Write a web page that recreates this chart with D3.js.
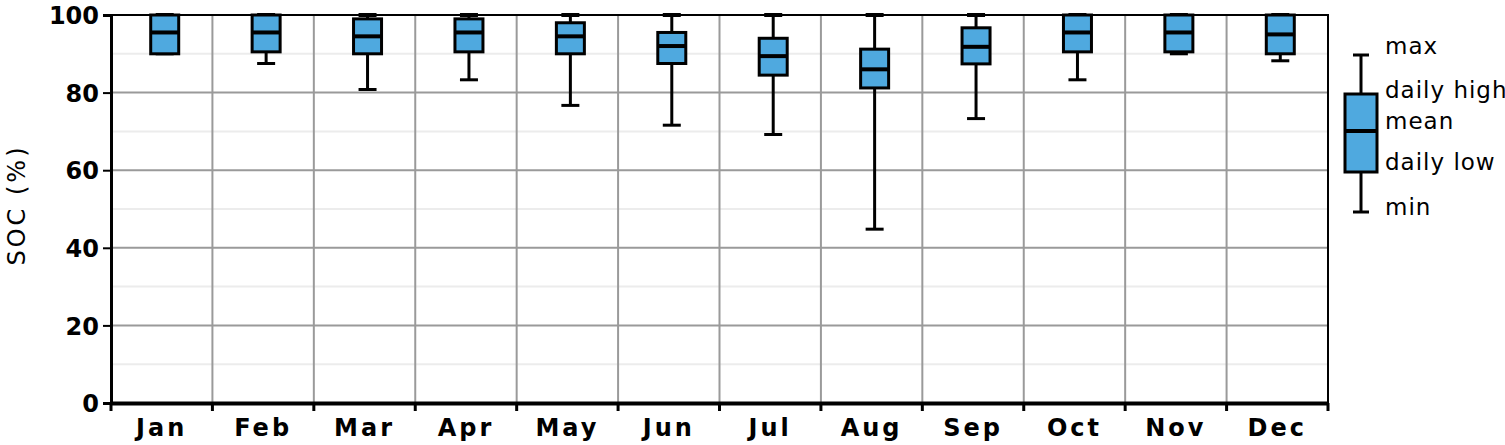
<!DOCTYPE html>
<html>
<head>
<meta charset="utf-8">
<script src="https://cdn.jsdelivr.net/npm/d3@7"></script>
<style>
  body { margin: 0; background: #fff; }
  svg text { font-family: "DejaVu Sans", sans-serif; fill: #000; }
</style>
</head>
<body>
<svg id="chart" width="1505" height="445"></svg>
<script>
// monthly SOC stats (%)
var months = ['Jan', 'Feb', 'Mar', 'Apr', 'May', 'Jun', 'Jul', 'Aug', 'Sep', 'Oct', 'Nov', 'Dec'];
var maxVals   = [100, 100, 100, 100, 100, 100, 100, 100, 100, 100, 100, 100];
var highVals  = [100, 100, 99, 99, 98, 95.5, 94, 91.2, 96.7, 100, 100, 100];
var meanVals  = [95.5, 95.5, 94.5, 95.5, 94.5, 92, 89.4, 86, 91.8, 95.5, 95.5, 95];
var lowVals   = [90, 90.5, 90, 90.5, 90, 87.5, 84.5, 81.2, 87.4, 90.5, 90.5, 90];
var minVals   = [90, 87.5, 80.8, 83.3, 76.7, 71.6, 69.2, 44.8, 73.3, 83.3, 90, 88.2];
var yTicks = [0, 20, 40, 60, 80, 100];
var legendLabels = ['max', 'daily high', 'mean', 'daily low', 'min'];

var svg = d3.select('#chart');
var plotL = 111, plotR = 1328, plotT = 15, plotB = 403;
var boxFill = '#4fa9df';

var x = d3.scaleBand().domain(months).range([plotL, plotR]).paddingInner(0).paddingOuter(0);
var y = d3.scaleLinear().domain([0, 100]).range([plotB, plotT]);

// minor grid
svg.append('g').selectAll('line')
    .data([10, 30, 50, 70, 90])
  .enter().append('line')
    .attr('x1', plotL).attr('x2', plotR)
    .attr('y1', function(d) { return y(d); })
    .attr('y2', function(d) { return y(d); })
    .attr('stroke', '#ececec').attr('stroke-width', 2);

// major grid
svg.append('g').selectAll('line')
    .data([20, 40, 60, 80])
  .enter().append('line')
    .attr('x1', plotL).attr('x2', plotR)
    .attr('y1', function(d) { return y(d); })
    .attr('y2', function(d) { return y(d); })
    .attr('stroke', '#9a9a9a').attr('stroke-width', 2);

svg.append('g').selectAll('line')
    .data(months.slice(1))
  .enter().append('line')
    .attr('x1', function(d) { return x(d); })
    .attr('x2', function(d) { return x(d); })
    .attr('y1', plotT).attr('y2', plotB)
    .attr('stroke', '#9a9a9a').attr('stroke-width', 2);

// frame
svg.append('rect')
    .attr('x', plotL).attr('y', plotT)
    .attr('width', plotR - plotL).attr('height', plotB - plotT)
    .attr('fill', 'none').attr('stroke', '#000').attr('stroke-width', 2);

// y axis
var yAxis = d3.axisLeft(y).tickValues(yTicks).tickSize(8).tickPadding(4);
var gy = svg.append('g').attr('transform', 'translate(' + plotL + ',0)').call(yAxis);
gy.select('.domain').attr('stroke', '#000').attr('stroke-width', 3);
gy.selectAll('.tick line').attr('stroke', '#000').attr('stroke-width', 2);
gy.selectAll('.tick text').style('font-size', '24px').style('font-weight', 'bold').attr('dy', '0.36em');

// x axis
var xAxis = d3.axisBottom(x).tickSize(0).tickPadding(16);
var gx = svg.append('g').attr('transform', 'translate(0,' + plotB + ')').call(xAxis);
gx.select('.domain').attr('stroke', '#000').attr('stroke-width', 4);
gx.selectAll('.tick text').style('font-size', '24px').style('font-weight', 'bold').style('letter-spacing', '3px');
gx.selectAll('.bnd').data(months.concat(['end']))
  .enter().append('line')
    .attr('x1', function(d, i) { return plotL + i * x.bandwidth(); })
    .attr('x2', function(d, i) { return plotL + i * x.bandwidth(); })
    .attr('y1', 0).attr('y2', 8)
    .attr('stroke', '#000').attr('stroke-width', 3);

svg.append('text')
    .attr('transform', 'translate(25,205) rotate(-90)')
    .attr('text-anchor', 'middle')
    .style('font-size', '24px').style('letter-spacing', '3px')
    .text('SOC (%)');

// boxes
var boxW = 28, capW = 18;
var g = svg.append('g').selectAll('g')
    .data(months)
  .enter().append('g')
    .attr('transform', function(d) { return 'translate(' + (x(d) + x.bandwidth() / 2 + 3) + ',0)'; });

g.append('line')
    .attr('x1', 0).attr('x2', 0)
    .attr('y1', function(d, i) { return y(maxVals[i]); })
    .attr('y2', function(d, i) { return y(minVals[i]); })
    .attr('stroke', '#000').attr('stroke-width', 3);
g.append('line')
    .attr('x1', -capW / 2).attr('x2', capW / 2)
    .attr('y1', function(d, i) { return y(maxVals[i]); })
    .attr('y2', function(d, i) { return y(maxVals[i]); })
    .attr('stroke', '#000').attr('stroke-width', 4);
g.append('line')
    .attr('x1', -capW / 2).attr('x2', capW / 2)
    .attr('y1', function(d, i) { return y(minVals[i]); })
    .attr('y2', function(d, i) { return y(minVals[i]); })
    .attr('stroke', '#000').attr('stroke-width', 3);
g.append('rect')
    .attr('x', -boxW / 2).attr('width', boxW)
    .attr('y', function(d, i) { return y(highVals[i]); })
    .attr('height', function(d, i) { return y(lowVals[i]) - y(highVals[i]); })
    .attr('fill', boxFill).attr('stroke', '#000').attr('stroke-width', 3);
g.append('line')
    .attr('x1', -boxW / 2).attr('x2', boxW / 2)
    .attr('y1', function(d, i) { return y(meanVals[i]); })
    .attr('y2', function(d, i) { return y(meanVals[i]); })
    .attr('stroke', '#000').attr('stroke-width', 4);

// legend
var lg = svg.append('g').attr('transform', 'translate(1361,0)');
lg.append('line').attr('x1', 0).attr('x2', 0).attr('y1', 55).attr('y2', 212)
    .attr('stroke', '#000').attr('stroke-width', 3);
lg.append('line').attr('x1', -8).attr('x2', 8).attr('y1', 55).attr('y2', 55)
    .attr('stroke', '#000').attr('stroke-width', 3);
lg.append('line').attr('x1', -8).attr('x2', 8).attr('y1', 212).attr('y2', 212)
    .attr('stroke', '#000').attr('stroke-width', 3);
lg.append('rect').attr('x', -16).attr('y', 94).attr('width', 32).attr('height', 78)
    .attr('fill', boxFill).attr('stroke', '#000').attr('stroke-width', 3);
lg.append('line').attr('x1', -16).attr('x2', 16).attr('y1', 131).attr('y2', 131)
    .attr('stroke', '#000').attr('stroke-width', 4);
lg.selectAll('text').data(legendLabels)
  .enter().append('text')
    .attr('x', 24)
    .attr('y', function(d, i) { return [46, 90, 121, 162, 207][i]; })
    .attr('dy', '0.36em')
    .style('font-size', '23px').style('letter-spacing', '1px')
    .text(function(d) { return d; });
</script>
</body>
</html>
